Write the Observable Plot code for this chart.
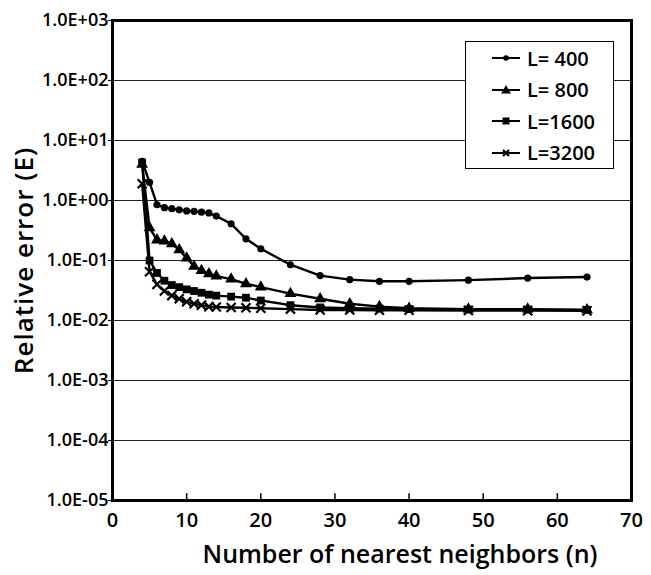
<!DOCTYPE html>
<html>
<head>
<meta charset="utf-8">
<script src="https://cdn.jsdelivr.net/npm/d3@7"></script>
<script src="https://cdn.jsdelivr.net/npm/@observablehq/plot@0.6"></script>
<style>
  html, body { margin: 0; padding: 0; background: white; }
  #wrap { position: relative; width: 651px; height: 575px; font-family: "Open Sans", sans-serif; }
  #legend { position: absolute; left: 465px; top: 41px; width: 147px; height: 126px; border: 1.5px solid black; background: white; }
  .row { position: absolute; left: 0; height: 26px; display: flex; align-items: center; }
  .row svg { margin-left: 24px; }
  .row span { font-size: 20px; font-weight: 600; margin-left: 5px; color: black; white-space: pre; }
</style>
</head>
<body>
<div id="wrap"></div>
<script>
// ---- data ----
const seriesNames = ["L= 400", "L= 800", "L=1600", "L=3200"];
const nValues = [4, 5, 6, 7, 8, 9, 10, 11, 12, 13, 14, 16, 18, 20, 24, 28, 32, 36, 40, 48, 56, 64];
const err400  = [4.5, 2.0, 0.85, 0.76, 0.73, 0.70, 0.67, 0.66, 0.64, 0.62, 0.55, 0.41, 0.23, 0.157, 0.085, 0.056, 0.048, 0.045, 0.045, 0.047, 0.051, 0.053];
const err800  = [4.0, 0.35, 0.22, 0.21, 0.19, 0.15, 0.11, 0.08, 0.068, 0.06, 0.055, 0.049, 0.041, 0.036, 0.028, 0.023, 0.019, 0.017, 0.016, 0.0155, 0.0155, 0.015];
const err1600 = [4.3, 0.10, 0.062, 0.046, 0.039, 0.036, 0.033, 0.031, 0.029, 0.027, 0.026, 0.025, 0.024, 0.0215, 0.018, 0.0165, 0.016, 0.0158, 0.0155, 0.0152, 0.0152, 0.015];
const err3200 = [1.9, 0.065, 0.04, 0.031, 0.026, 0.023, 0.0205, 0.019, 0.018, 0.017, 0.0168, 0.0165, 0.0163, 0.016, 0.0155, 0.015, 0.015, 0.0148, 0.0148, 0.0147, 0.0146, 0.0145];
const xTicks = [0, 10, 20, 30, 40, 50, 60, 70];
const yTicks = [1e-5, 1e-4, 1e-3, 1e-2, 1e-1, 1e0, 1e1, 1e2, 1e3];
const yTickLabels = ["1.0E-05", "1.0E-04", "1.0E-03", "1.0E-02", "1.0E-01", "1.0E+00", "1.0E+01", "1.0E+02", "1.0E+03"];
const symbols = ["circle", "triangle", "square", "times"];

const allErr = [err400, err800, err1600, err3200];
const data = [];
seriesNames.forEach((name, i) => nValues.forEach((n, j) => data.push({L: name, n, e: allErr[i][j]})));

const fmt = d => yTickLabels[yTicks.findIndex(t => Math.abs(Math.log10(t) - Math.log10(d)) < 1e-6)];

const chart = Plot.plot({
  width: 651, height: 575,
  marginLeft: 112, marginRight: 20, marginTop: 20, marginBottom: 75,
  style: {fontFamily: "Open Sans", fontSize: "18px", color: "black", background: "white"},
  x: {domain: [0, 70]},
  y: {type: "log", domain: [1e-5, 1e3]},
  symbol: {domain: seriesNames, range: symbols},
  marks: [
    Plot.gridY(yTicks, {stroke: "#222", strokeOpacity: 1, strokeWidth: 1.2}),
    Plot.ruleX(xTicks.slice(1, -1), {y1: 1e-5, y2: 1.3e-5, stroke: "black", strokeWidth: 1.5}),
    Plot.axisY(yTicks, {tickFormat: fmt, tickSize: 4, tickPadding: 0, fontSize: 18, fontWeight: 600,
      label: "Relative error (E)", labelAnchor: "center", labelOffset: 98, labelArrow: "none"}),
    Plot.axisX(xTicks, {tickSize: 0, tickPadding: 12, fontSize: 20, fontWeight: 600,
      label: "Number of nearest neighbors (n)", labelAnchor: "center", labelOffset: 62, labelArrow: "none"}),
    Plot.line(data, {x: "n", y: "e", z: "L", stroke: "black", strokeWidth: 2.4}),
    Plot.dot(data.filter(d => d.L === "L= 400"), {x: "n", y: "e", symbol: "L", fill: "black", r: 3.6}),
    Plot.dot(data.filter(d => d.L === "L= 800" || d.L === "L=1600"), {x: "n", y: "e", symbol: "L", fill: "black", r: 4.4}),
    Plot.dot(data.filter(d => d.L === "L=3200"), {x: "n", y: "e", symbol: "L", stroke: "black", strokeWidth: 2.2, r: 4.2}),
    Plot.frame({stroke: "black", strokeWidth: 3})
  ]
});

// axis title fonts
chart.querySelectorAll("g[aria-label='y-axis label'] text").forEach(t => {
  t.setAttribute("font-size", "26"); t.setAttribute("font-weight", "600"); t.setAttribute("letter-spacing", "1");
});
chart.querySelectorAll("g[aria-label='x-axis label'] text").forEach(t => {
  t.setAttribute("font-size", "25"); t.setAttribute("font-weight", "600"); t.setAttribute("dx", "28");
});

const wrap = document.getElementById("wrap");
wrap.appendChild(chart);

// legend
const legend = document.createElement("div");
legend.id = "legend";
const symPaths = {
  circle: '<circle cx="16" cy="8" r="2.8" fill="black"/>',
  triangle: '<path d="M16,3 L21,11.5 L11,11.5 Z" fill="black"/>',
  square: '<rect x="12.5" y="4.5" width="7" height="7" fill="black"/>',
  times: '<path d="M13,5 L19,11 M19,5 L13,11" stroke="black" stroke-width="2.2"/>'
};
seriesNames.forEach((name, i) => {
  const row = document.createElement("div");
  row.className = "row";
  row.style.top = (3 + i * 31.5) + "px";
  row.innerHTML = `<svg width="32" height="16"><line x1="2" y1="8" x2="30" y2="8" stroke="black" stroke-width="2"/>${symPaths[symbols[i]]}</svg><span>${name}</span>`;
  legend.appendChild(row);
});
wrap.appendChild(legend);
</script>
</body>
</html>
